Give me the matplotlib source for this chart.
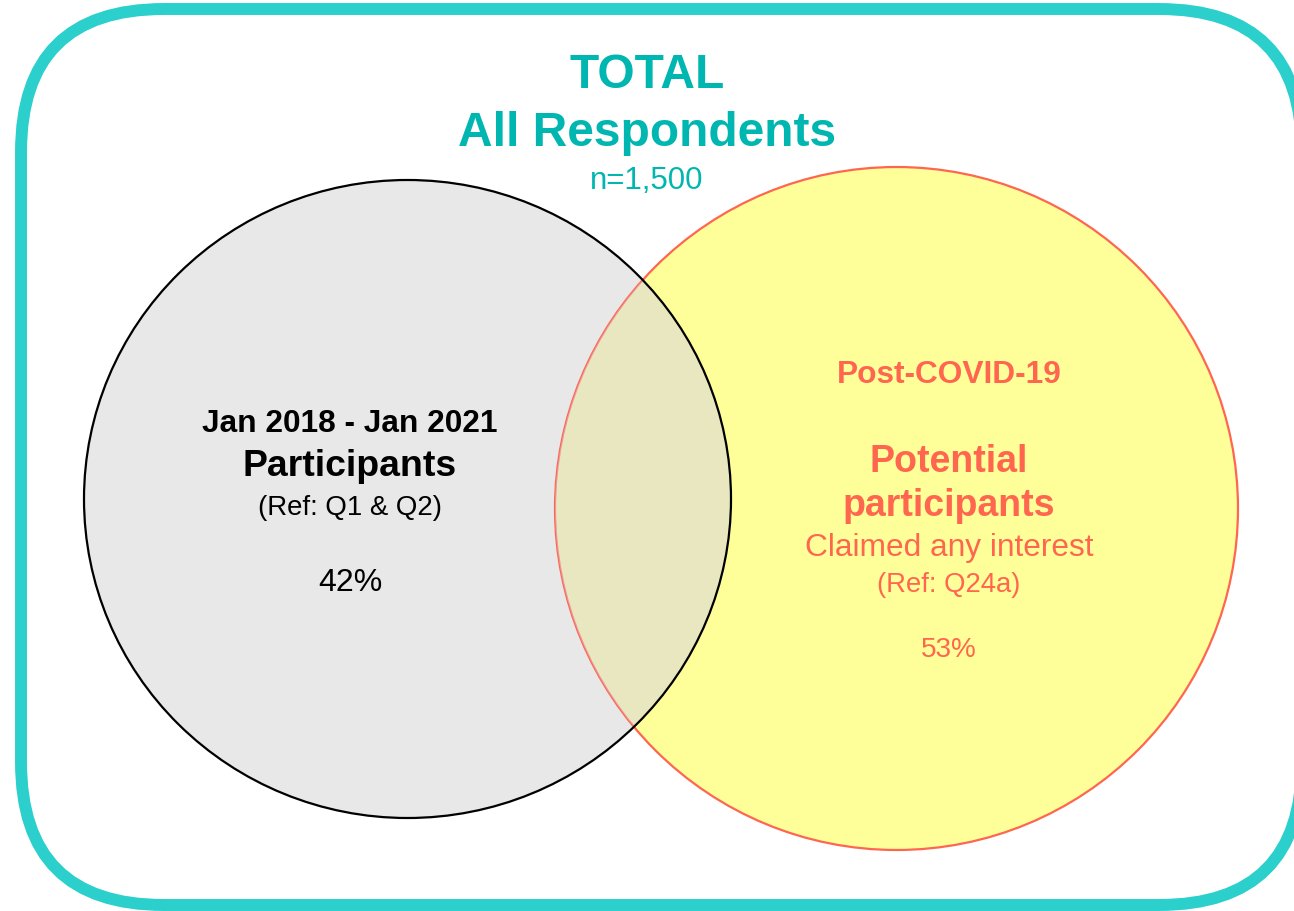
import matplotlib
matplotlib.use("Agg")
import matplotlib.pyplot as plt
from matplotlib.patches import Ellipse, FancyBboxPatch

plt.rcParams['font.family'] = ['Liberation Sans', 'DejaVu Sans']

# figure content
title_lines = ["TOTAL", "All Respondents", "n=1,500"]
left_lines = ["Jan 2018 - Jan 2021", "Participants", "(Ref: Q1 & Q2)", "42%"]
right_lines = ["Post-COVID-19", "Potential", "participants",
               "Claimed any interest", "(Ref: Q24a)", "53%"]

TEAL_LINE = "#2BCFCB"
TEAL_TEXT = "#00B6B1"
CORAL = "#FF6650"
GREY = "#E8E8E8"
YELLOW = "#FFFF99"

W, H = 1294, 911
fig = plt.figure(figsize=(W / 100, H / 100), dpi=100)
ax = fig.add_axes([0, 0, 1, 1])
ax.set_xlim(0, W)
ax.set_ylim(H, 0)
ax.axis("off")

# outer rounded frame (right side runs just past the picture edge)
frame = FancyBboxPatch((21, 9), 1281, 896,
                       boxstyle="round,pad=0,rounding_size=143",
                       fc="white", ec=TEAL_LINE, lw=8.6, zorder=1)
ax.add_patch(frame)

# circles
ax.add_patch(Ellipse((407.5, 499), 647, 638, fc=GREY, ec="none", zorder=2))
yel = Ellipse((896.5, 508.5), 683, 683, fc=YELLOW, ec=CORAL, lw=1.6, zorder=3)
ax.add_patch(yel)
# veil over the overlap (clipped to the yellow circle), then the black outline
veil = Ellipse((407.5, 499), 647, 638, fc="#D3D1E7", ec="none", alpha=0.5, zorder=4)
ax.add_patch(veil)
veil.set_clip_path(yel)
ax.add_patch(Ellipse((407.5, 499), 647, 638, fc="none", ec="black", lw=1.6, zorder=5))

# title
ax.text(647, 75, title_lines[0], color=TEAL_TEXT, fontsize=34.5, fontweight="bold",
        ha="center", va="center", zorder=6)
ax.text(647, 133, title_lines[1], color=TEAL_TEXT, fontsize=34.5, fontweight="bold",
        ha="center", va="center", zorder=6)
ax.text(647, 181, title_lines[2], color=TEAL_TEXT, fontsize=22.5,
        ha="center", va="center", zorder=6)

# left circle labels
lx = 350
ax.text(lx, 424, left_lines[0], fontsize=22.8, fontweight="bold",
        ha="center", va="center", zorder=6)
ax.text(lx, 467, left_lines[1], fontsize=26.9, fontweight="bold",
        ha="center", va="center", zorder=6)
ax.text(lx, 508, left_lines[2], fontsize=19.9,
        ha="center", va="center", zorder=6)
ax.text(lx, 583, left_lines[3], fontsize=23,
        ha="center", va="center", zorder=6)

# right circle labels
rx = 949
ax.text(rx, 375, right_lines[0], color=CORAL, fontsize=22.8, fontweight="bold",
        ha="center", va="center", zorder=6)
ax.text(rx, 462, right_lines[1], color=CORAL, fontsize=27, fontweight="bold",
        ha="center", va="center", zorder=6)
ax.text(rx, 506, right_lines[2], color=CORAL, fontsize=27, fontweight="bold",
        ha="center", va="center", zorder=6)
ax.text(rx, 548, right_lines[3], color=CORAL, fontsize=22.8,
        ha="center", va="center", zorder=6)
ax.text(rx, 585, right_lines[4], color=CORAL, fontsize=19.8,
        ha="center", va="center", zorder=6)
ax.text(rx, 650, right_lines[5], color=CORAL, fontsize=20.1,
        ha="center", va="center", zorder=6)

fig.savefig("out.png", dpi=100)
